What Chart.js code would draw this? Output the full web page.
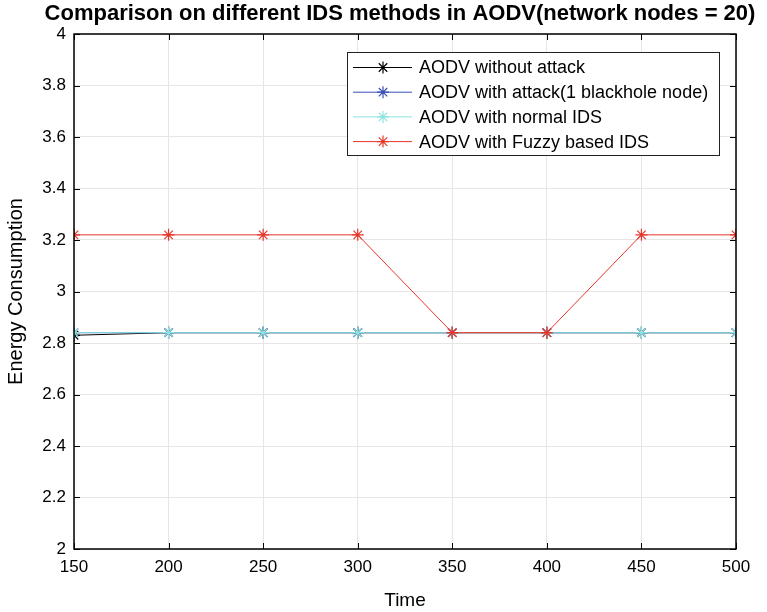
<!DOCTYPE html>
<html>
<head>
<meta charset="utf-8">
<script src="https://cdn.jsdelivr.net/npm/chart.js@4/dist/chart.umd.min.js"></script>
<style>
  html, body { margin: 0; padding: 0; background: #fff; }
  #wrap { width: 767px; height: 612px; }
</style>
</head>
<body>
<div id="wrap"><canvas id="chart"></canvas></div>
<script>
// data
const timeLabels = [150, 200, 250, 300, 350, 400, 450, 500];
const noAttack = [2.83, 2.84, 2.84, 2.84, 2.84, 2.84, 2.84, 2.84];
const withAttack = [2.84, 2.84, 2.84, 2.84, 2.84, 2.84, 2.84, 2.84];
const normalIds = [2.84, 2.84, 2.84, 2.84, 2.84, 2.84, 2.84, 2.84];
const fuzzyIds = [3.22, 3.22, 3.22, 3.22, 2.84, 2.84, 3.22, 3.22];
const yTicks = [2, 2.2, 2.4, 2.6, 2.8, 3, 3.2, 3.4, 3.6, 3.8, 4];

const seriesNames = [
  'AODV without attack',
  'AODV with attack(1 blackhole node)',
  'AODV with normal IDS',
  'AODV with Fuzzy based IDS'
];
const seriesColors = ['#000000', '#3a4fb8', '#8ee3e0', '#e8352b'];
const seriesData = [noAttack, withAttack, normalIds, fuzzyIds];

const FONT = '"Liberation Sans", Arial, sans-serif';

function makeDataset(i) {
  return {
    label: seriesNames[i],
    data: seriesData[i].map((v, k) => ({ x: timeLabels[k], y: v })),
    borderColor: seriesColors[i],
    backgroundColor: seriesColors[i],
    borderWidth: 1,
    pointStyle: 'star',
    pointRadius: 6,
    pointBorderWidth: 1.2,
    pointBorderColor: seriesColors[i],
    tension: 0,
    order: seriesData.length - i   // later series on top, like MATLAB
  };
}

// MATLAB-like frame: box, inward ticks, title and legend
const matlabFrame = {
  id: 'matlabFrame',
  afterDraw(chart) {
    const { ctx, chartArea: a, scales } = chart;
    ctx.save();
    ctx.strokeStyle = '#000';
    ctx.lineWidth = 1.5;
    ctx.strokeRect(a.left, a.top, a.right - a.left, a.bottom - a.top);

    ctx.lineWidth = 1;
    const tl = 6;
    timeLabels.forEach(t => {
      const x = Math.round(scales.x.getPixelForValue(t)) + 0.5;
      ctx.beginPath();
      ctx.moveTo(x, a.bottom); ctx.lineTo(x, a.bottom - tl);
      ctx.moveTo(x, a.top); ctx.lineTo(x, a.top + tl);
      ctx.stroke();
    });
    yTicks.forEach(v => {
      const y = Math.round(scales.y.getPixelForValue(v)) + 0.5;
      ctx.beginPath();
      ctx.moveTo(a.left, y); ctx.lineTo(a.left + tl, y);
      ctx.moveTo(a.right, y); ctx.lineTo(a.right - tl, y);
      ctx.stroke();
    });

    // title
    ctx.fillStyle = '#000';
    ctx.font = 'bold 22px ' + FONT;
    ctx.textAlign = 'center';
    ctx.textBaseline = 'middle';
    ctx.fillText('Comparison on different IDS methods in AODV(network nodes = 20)', 400, 14);

    // legend
    const lx = 347, ly = 52, lw = 372, lh = 103;
    ctx.fillStyle = '#fff';
    ctx.fillRect(lx, ly, lw, lh);
    ctx.strokeStyle = '#222';
    ctx.lineWidth = 1;
    ctx.strokeRect(lx + 0.5, ly + 0.5, lw, lh);
    ctx.font = '18px ' + FONT;
    ctx.textAlign = 'left';
    chart.data.datasets.forEach((ds, i) => {
      const y = ly + 15.5 + i * 24.7;
      ctx.strokeStyle = ds.borderColor;
      ctx.lineWidth = 1;
      ctx.beginPath();
      ctx.moveTo(lx + 6, y); ctx.lineTo(lx + 65, y);
      ctx.stroke();
      ctx.lineWidth = 1.2;
      Chart.helpers.drawPoint(ctx, { pointStyle: 'star', radius: 6, borderWidth: 1.2 }, lx + 36, y);
      ctx.fillStyle = '#000';
      ctx.fillText(ds.label, lx + 72, y + 1);
    });
    ctx.restore();
  }
};

new Chart(document.getElementById('chart'), {
  type: 'line',
  data: { datasets: seriesData.map((_, i) => makeDataset(i)) },
  options: {
    responsive: true,
    maintainAspectRatio: false,
    animation: false,
    layout: { padding: { top: 34, right: 31, left: 0, bottom: 0 } },
    plugins: { legend: { display: false }, title: { display: false }, tooltip: { enabled: false } },
    scales: {
      x: {
        type: 'linear',
        min: 150, max: 500,
        afterBuildTicks: s => { s.ticks = timeLabels.map(v => ({ value: v })); },
        afterFit: s => { s.height = 63; },
        grid: { color: '#e6e6e6', drawTicks: false, lineWidth: 1 },
        border: { display: false },
        ticks: { color: '#000', font: { family: FONT, size: 17 }, padding: 8, maxRotation: 0 },
        title: { display: true, text: 'Time', color: '#000', font: { family: FONT, size: 19 }, padding: { top: 0, bottom: 0 } }
      },
      y: {
        min: 2, max: 4,
        afterBuildTicks: s => { s.ticks = yTicks.map(v => ({ value: v })); },
        afterFit: s => { s.width = 74; },
        grid: { color: '#e6e6e6', drawTicks: false, lineWidth: 1 },
        border: { display: false },
        ticks: { color: '#000', font: { family: FONT, size: 17 }, padding: 8, callback: v => String(Math.round(v * 10) / 10) },
        title: { display: true, text: 'Energy Consumption', color: '#000', font: { family: FONT, size: 20 }, padding: { top: 4, bottom: 0 } }
      }
    }
  },
  plugins: [matlabFrame]
});
</script>
</body>
</html>
